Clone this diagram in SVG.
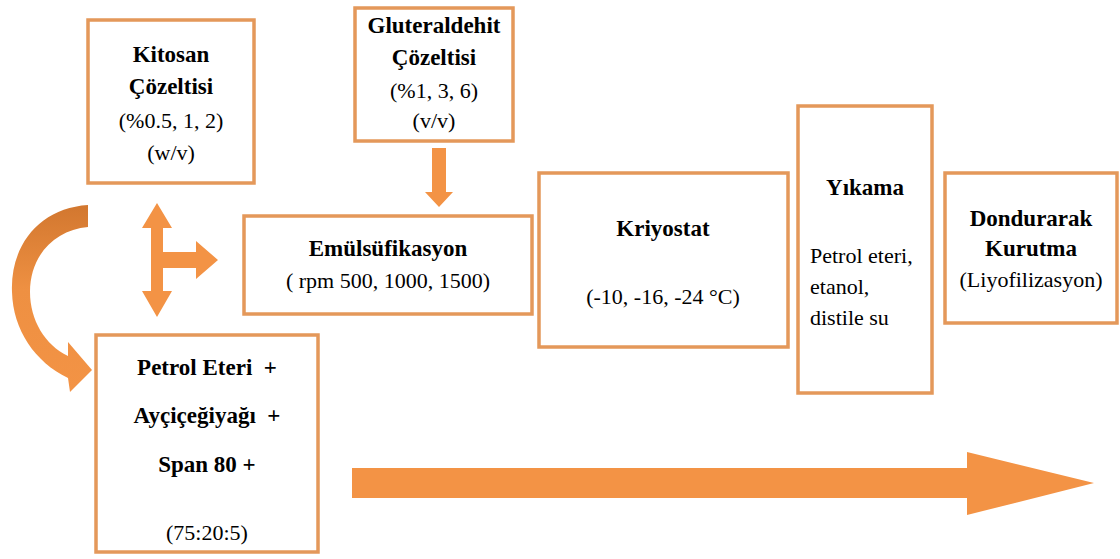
<svg xmlns="http://www.w3.org/2000/svg" width="1120" height="559" viewBox="0 0 1120 559">
<defs>
<style>
.box{fill:#ffffff;stroke:#E4985A;stroke-width:3.5}
.arr{fill:#F39345}
.b{font-family:"Liberation Serif","Times New Roman",Times,"DejaVu Serif",serif;font-weight:bold;font-size:23px;fill:#000;text-anchor:middle}
.r{font-family:"Liberation Serif","Times New Roman",Times,"DejaVu Serif",serif;font-size:22px;fill:#000;text-anchor:middle}
.l{text-anchor:start}
.pre{white-space:pre}
</style>
<linearGradient id="cg" x1="0" y1="0" x2="0" y2="1">
<stop offset="0" stop-color="#D2772F"/>
<stop offset="0.45" stop-color="#EE9042"/>
<stop offset="1" stop-color="#F39345"/>
</linearGradient>
</defs>
<rect width="1120" height="559" fill="#ffffff"/>

<g id="connectors">
<path id="curved-arrow" fill="url(#cg)" d="M88,205 C40,208 10,245 12,292 C13,330 35,362 68,378 L70,392 L92,370 L68,342 L68,356 C45,345 30,320 30,292 C30,255 55,230 88,227 Z"/>
<path id="cross-arrow" class="arr" d="M157,203 L172,228 L163,228 L163,252 L196,252 L196,241 L218,260 L196,279 L196,268 L163,268 L163,291 L172,291 L157,317 L142,291 L151,291 L151,228 L142,228 Z"/>
<path id="down-arrow" class="arr" d="M432,148 L446,148 L446,192 L453,192 L439,207 L425,192 L432,192 Z"/>
<path id="main-arrow" class="arr" d="M352,468 L967,468 L967,452 L1094,483 L967,515 L967,498 L352,498 Z"/>
</g>

<g id="kitosan">
<rect class="box" x="88" y="20" width="166" height="163"/>
<text class="b" x="171" y="62">Kitosan</text>
<text class="b" x="171" y="94">Çözeltisi</text>
<text class="r" x="171" y="128">(%0.5, 1, 2)</text>
<text class="r" x="171" y="160">(w/v)</text>
</g>

<g id="gluteraldehit">
<rect class="box" x="355" y="8" width="158" height="133"/>
<text class="b" x="434" y="33">Gluteraldehit</text>
<text class="b" x="434" y="65">Çözeltisi</text>
<text class="r" x="434" y="98">(%1, 3, 6)</text>
<text class="r" x="434" y="128">(v/v)</text>
</g>

<g id="emulsifikasyon">
<rect class="box" x="244" y="216" width="288" height="98"/>
<text class="b" x="388" y="256">Emülsüfikasyon</text>
<text class="r" x="388" y="288">( rpm 500, 1000, 1500)</text>
</g>

<g id="kriyostat">
<rect class="box" x="539" y="173" width="249" height="174"/>
<text class="b" x="663" y="236">Kriyostat</text>
<text class="r" x="663" y="304">(-10, -16, -24 °C)</text>
</g>

<g id="yikama">
<rect class="box" x="798" y="106" width="134" height="287"/>
<text class="b" x="865" y="195">Yıkama</text>
<text class="r l" x="810" y="263">Petrol eteri,</text>
<text class="r l" x="810" y="294">etanol,</text>
<text class="r l" x="810" y="325">distile su</text>
</g>

<g id="dondurarak">
<rect class="box" x="945" y="173" width="172" height="150"/>
<text class="b" x="1031" y="226">Dondurarak</text>
<text class="b" x="1031" y="256">Kurutma</text>
<text class="r" x="1031" y="287">(Liyofilizasyon)</text>
</g>

<g id="petrol">
<rect class="box" x="96" y="335" width="222" height="217"/>
<text class="b pre" x="207" y="375">Petrol Eteri  +</text>
<text class="b pre" x="207" y="423">Ayçiçeğiyağı  +</text>
<text class="b" x="207" y="472">Span 80 +</text>
<text class="r" x="207" y="540">(75:20:5)</text>
</g>
</svg>
